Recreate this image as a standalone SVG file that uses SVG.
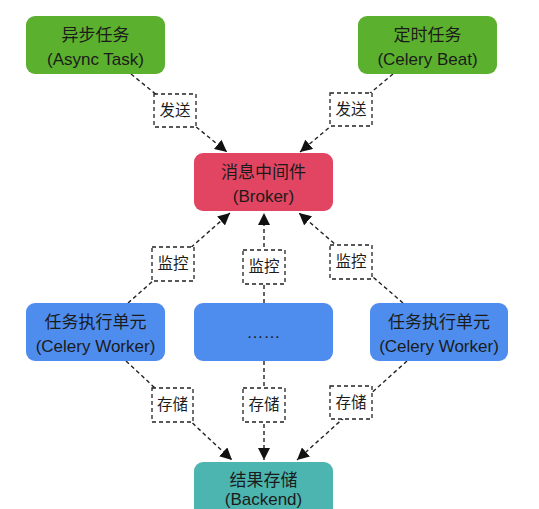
<svg xmlns="http://www.w3.org/2000/svg" width="539" height="509" viewBox="0 0 539 509">
<defs>
<marker id="arr" viewBox="0 0 10 10" refX="10" refY="5" markerWidth="12" markerHeight="12" markerUnits="userSpaceOnUse" orient="auto">
<path d="M0,0 L10,5 L0,10 z" fill="#111"/>
</marker>
<style>
.t{font-family:"Liberation Sans","Noto Sans CJK SC",sans-serif;font-size:17px;fill:#1b1b1b;text-anchor:middle}
.l{font-family:"Liberation Sans","Noto Sans CJK SC",sans-serif;font-size:15.5px;fill:#1b1b1b;text-anchor:middle}
.c{fill:none;stroke:#222;stroke-width:1.4;stroke-dasharray:4 3;marker-end:url(#arr)}
.lb{fill:#fff;stroke:#222;stroke-width:1.3;stroke-dasharray:4 3}
.green{fill:#5bb02d}
.red{fill:#e24561}
.blue{fill:#4e8ded}
.teal{fill:#4db5b0}
</style>
</defs>
<rect width="539" height="509" fill="#fff"/>
<g id="connectors">
<line class="c" x1="131" y1="74" x2="227" y2="152"/>
<line class="c" x1="393" y1="74" x2="300" y2="152"/>
<line class="c" x1="128" y1="303" x2="230" y2="213"/>
<line class="c" x1="264" y1="303" x2="264" y2="213"/>
<line class="c" x1="403" y1="303" x2="299" y2="213"/>
<line class="c" x1="126" y1="361" x2="232" y2="460"/>
<line class="c" x1="264" y1="361" x2="264" y2="460"/>
<line class="c" x1="407" y1="361" x2="297" y2="460"/>
</g>
<g id="labels">
<g id="lbl-send1"><rect class="lb" x="154" y="94" width="42" height="33"/><text class="l" x="175" y="116">发送</text></g>
<g id="lbl-send2"><rect class="lb" x="330" y="93" width="42" height="33"/><text class="l" x="351" y="115">发送</text></g>
<g id="lbl-mon1"><rect class="lb" x="152" y="247" width="42" height="34"/><text class="l" x="173" y="269">监控</text></g>
<g id="lbl-mon2"><rect class="lb" x="243" y="250" width="42" height="34"/><text class="l" x="264" y="272">监控</text></g>
<g id="lbl-mon3"><rect class="lb" x="330" y="245" width="42" height="34"/><text class="l" x="351" y="267">监控</text></g>
<g id="lbl-store1"><rect class="lb" x="152" y="388" width="41" height="34"/><text class="l" x="172.5" y="410">存储</text></g>
<g id="lbl-store2"><rect class="lb" x="243" y="388" width="42" height="34"/><text class="l" x="264" y="410">存储</text></g>
<g id="lbl-store3"><rect class="lb" x="330" y="386" width="42" height="33"/><text class="l" x="351" y="408">存储</text></g>
</g>
<g id="async-task"><rect class="green" x="26" y="16" width="139" height="58" rx="9"/><text class="t" x="95.5" y="41">异步任务</text><text class="t" x="95.5" y="65">(Async Task)</text></g>
<g id="celery-beat"><rect class="green" x="358" y="16" width="139" height="58" rx="9"/><text class="t" x="427.5" y="41">定时任务</text><text class="t" x="427.5" y="65">(Celery Beat)</text></g>
<g id="broker"><rect class="red" x="194" y="153" width="139" height="58" rx="9"/><text class="t" x="263.5" y="178">消息中间件</text><text class="t" x="263.5" y="202">(Broker)</text></g>
<g id="worker1"><rect class="blue" x="26" y="303" width="139" height="58" rx="9"/><text class="t" x="95.5" y="328">任务执行单元</text><text class="t" x="95.5" y="352">(Celery Worker)</text></g>
<g id="worker-more"><rect class="blue" x="194" y="303" width="139" height="58" rx="9"/><text class="t" x="263.5" y="338">……</text></g>
<g id="worker2"><rect class="blue" x="370" y="303" width="138" height="58" rx="9"/><text class="t" x="439" y="328">任务执行单元</text><text class="t" x="439" y="352">(Celery Worker)</text></g>
<g id="backend"><rect class="teal" x="194" y="462" width="139" height="58" rx="9"/><text class="t" x="263.5" y="486">结果存储</text><text class="t" x="263.5" y="505">(Backend)</text></g>
</svg>
